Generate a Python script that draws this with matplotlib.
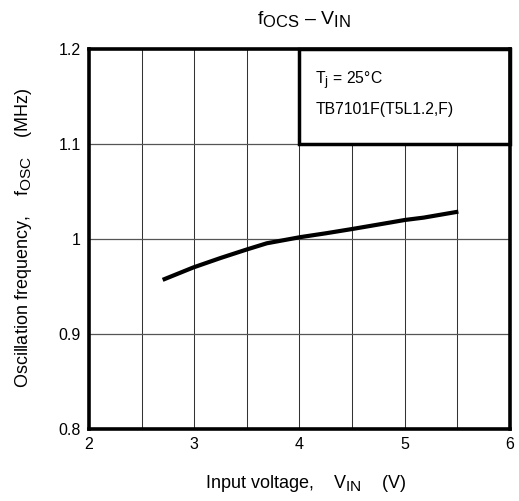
import matplotlib
matplotlib.use('Agg')
import matplotlib.pyplot as plt
from matplotlib.patches import Rectangle

plt.rcParams['font.family'] = ['Liberation Sans', 'DejaVu Sans']
plt.rcParams['mathtext.fontset'] = 'custom'
plt.rcParams['mathtext.rm'] = 'Liberation Sans'
plt.rcParams['mathtext.it'] = 'Liberation Sans'

# subscripts in the datasheet are only slightly smaller than the main text
try:
    import matplotlib._mathtext as _mt
    _mt.SHRINK_FACTOR = 0.85
except Exception:
    pass

# curve
vin = [2.70, 2.99, 3.25, 3.50, 3.69, 4.01, 4.25, 4.50, 4.87, 5.00, 5.18, 5.51]
fosc = [0.957, 0.970, 0.980, 0.989, 0.9955, 1.002, 1.006, 1.0105, 1.0175, 1.020, 1.0225, 1.0288]

x_ticks = [2, 3, 4, 5, 6]
y_ticks = [0.8, 0.9, 1.0, 1.1, 1.2]
y_tick_labels = ['0.8', '0.9', '1', '1.1', '1.2']
x_grid = [2.5, 3, 3.5, 4, 4.5, 5, 5.5]
y_grid = [0.9, 1.0, 1.1]

fig = plt.figure(figsize=(5.19, 5.01), dpi=100)
ax = fig.add_axes([0.1715, 0.1437, 0.811, 0.7585])

for xv in x_grid:
    ax.axvline(xv, color='#333333', lw=0.75, zorder=1)
for yv in y_grid:
    ax.axhline(yv, color='#555555', lw=0.9, zorder=1)

ax.plot(vin, fosc, color='black', lw=3.0, solid_capstyle='butt', zorder=3)

# condition box in upper right
ax.add_patch(Rectangle((4, 1.1), 2, 0.1, facecolor='white', edgecolor='black',
                       lw=2.5, zorder=4, clip_on=False))
ax.text(4.15, 1.166, r'T$\mathregular{_j}$ = 25°C', fontsize=11.3, va='center', zorder=5)
ax.text(4.15, 1.136, 'TB7101F(T5L1.2,F)', fontsize=11.3, va='center', zorder=5)

ax.set_xlim(2, 6)
ax.set_ylim(0.8, 1.2)
ax.set_xticks(x_ticks)
ax.set_yticks(y_ticks)
ax.set_yticklabels(y_tick_labels)
ax.tick_params(length=0, labelsize=11.5, pad=6)
for s in ax.spines.values():
    s.set_linewidth(2.6)
    s.set_zorder(6)

fig.text(0.585, 0.963, r'f$\mathregular{_{OCS}}$ – V$\mathregular{_{IN}}$', fontsize=14,
         ha='center', va='center')
fig.text(0.045, 0.525, r'Oscillation frequency,    f$\mathregular{_{OSC}}$    (MHz)', fontsize=13,
         rotation=90, ha='center', va='center')
fig.text(0.588, 0.035, r'Input voltage,    V$\mathregular{_{IN}}$    (V)', fontsize=13,
         ha='center', va='center')

fig.savefig('out.png', dpi=100)
